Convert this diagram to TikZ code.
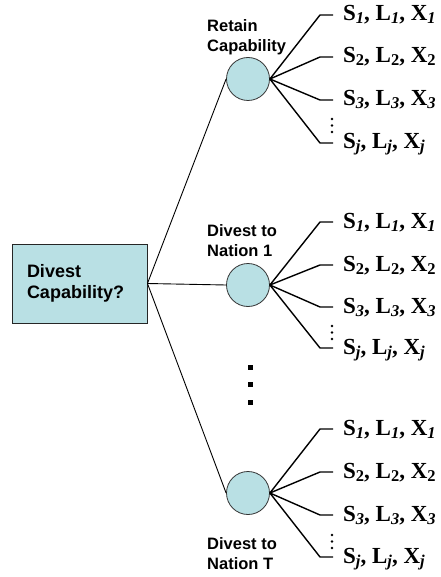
\documentclass[tikz,border=0pt]{standalone}
\usepackage{fontspec}
\setmainfont{Liberation Serif}
\setsansfont{Liberation Sans}
\usepackage{tikz}
\usetikzlibrary{positioning}
\definecolor{capblue}{RGB}{185,224,228}
\tikzset{
  decbox/.style={draw=black!85, fill=capblue, line width=0.9pt, minimum width=135pt, minimum height=79pt,
    inner xsep=15pt, inner ysep=0pt, text width=105pt, align=left, font=\fontsize{18}{21}\selectfont\sffamily\bfseries},
  chance/.style={circle, draw=black!80, fill=capblue, minimum size=43pt, inner sep=0pt, line width=0.8pt},
  lbl/.style={font=\fontsize{16.5}{20}\selectfont\sffamily\bfseries, align=left, inner sep=0pt},
  res/.style={font=\fontsize{23}{26}\selectfont\bfseries, inner sep=0pt, anchor=base west},
  arm/.style={line width=1.4pt},
  stem/.style={line width=0.9pt}}
\newcommand{\sbx}[1]{\raisebox{-3pt}{\fontsize{16.5}{16.5}\selectfont #1}}
\newcommand{\outc}[1]{S\sbx{#1}, L\sbx{#1}, X\sbx{#1}}

\begin{document}
\begin{tikzpicture}[x=1pt,y=-1pt]
  \useasboundingbox (0,0) rectangle (440,577);
    \node[decbox] (box) at (79.5,283.5) {Divest\\Capability?};
    \node[chance] (ret) at (248,79) {};
    \node[chance] (nat1) at (248,285) {};
    \node[chance] (natT) at (248,493) {};
         \draw[stem] (box.east) -- (ret.west);
         \draw[stem] (box.east) -- (nat1.west);
         \draw[stem] (box.east) -- (natT.west);
    \node[lbl, anchor=south west] (retlbl) at ([xshift=-41pt,yshift=2pt]ret.north) {Retain\\Capability};
    \node[lbl, anchor=south west] (n1lbl) at ([xshift=-41pt,yshift=6pt]nat1.north) {Divest to\\Nation 1};
    \node[lbl, anchor=north west] (ntlbl) at ([xshift=-41pt,yshift=-22pt]natT.south) {Divest to\\Nation T};
    % retain capability
    \coordinate (r1) at (320,15);
    \coordinate (r2) at (320,57);
    \coordinate (r3) at (320,100);
    \coordinate (rj) at (320,143);
         \draw[arm] (ret.east) -- (r1) -- ([xshift=13pt]r1);
         \draw[arm] (ret.east) -- (r2) -- ([xshift=13pt]r2);
         \draw[arm] (ret.east) -- (r3) -- ([xshift=13pt]r3);
         \draw[arm] (ret.east) -- (rj) -- ([xshift=13pt]rj);
    \node[res] (r1t) at ([xshift=23pt,yshift=-6pt]r1) {\outc{\itshape 1}};
    \node[res] (r2t) at ([xshift=23pt,yshift=-6pt]r2) {\outc{2}};
    \node[res] (r3t) at ([xshift=23pt,yshift=-6pt]r3) {\outc{\itshape 3}};
    \node[res] (rjt) at ([xshift=23pt,yshift=-6pt]rj) {\outc{\itshape j}};
         \fill (332,119) circle (1.3pt); \fill (332,125.5) circle (1.3pt); \fill (332,132) circle (1.3pt);
    % nation 1
    \coordinate (a1) at (320,222);
    \coordinate (a2) at (320,265);
    \coordinate (a3) at (320,307);
    \coordinate (aj) at (320,348);
         \draw[arm] (nat1.east) -- (a1) -- ([xshift=13pt]a1);
         \draw[arm] (nat1.east) -- (a2) -- ([xshift=13pt]a2);
         \draw[arm] (nat1.east) -- (a3) -- ([xshift=13pt]a3);
         \draw[arm] (nat1.east) -- (aj) -- ([xshift=13pt]aj);
    \node[res] (a1t) at ([xshift=23pt,yshift=-6pt]a1) {\outc{\itshape 1}};
    \node[res] (a2t) at ([xshift=23pt,yshift=-6pt]a2) {\outc{2}};
    \node[res] (a3t) at ([xshift=23pt,yshift=-6pt]a3) {\outc{\itshape 3}};
    \node[res] (ajt) at ([xshift=23pt,yshift=-6pt]aj) {\outc{\itshape j}};
         \fill (332,326) circle (1.3pt); \fill (332,332.5) circle (1.3pt); \fill (332,339) circle (1.3pt);
    % nation T
    \coordinate (t1) at (320,429);
    \coordinate (t2) at (320,472);
    \coordinate (t3) at (320,515);
    \coordinate (tj) at (320,557);
         \draw[arm] (natT.east) -- (t1) -- ([xshift=13pt]t1);
         \draw[arm] (natT.east) -- (t2) -- ([xshift=13pt]t2);
         \draw[arm] (natT.east) -- (t3) -- ([xshift=13pt]t3);
         \draw[arm] (natT.east) -- (tj) -- ([xshift=13pt]tj);
    \node[res] (t1t) at ([xshift=23pt,yshift=-6pt]t1) {\outc{\itshape 1}};
    \node[res] (t2t) at ([xshift=23pt,yshift=-6pt]t2) {\outc{2}};
    \node[res] (t3t) at ([xshift=23pt,yshift=-6pt]t3) {\outc{\itshape 3}};
    \node[res] (tjt) at ([xshift=23pt,yshift=-6pt]tj) {\outc{\itshape j}};
         \fill (332,535) circle (1.3pt); \fill (332,541.5) circle (1.3pt); \fill (332,548) circle (1.3pt);
    % more nations
         \fill (247.5,364.5) rectangle ++(5,5);
         \fill (247.5,382) rectangle ++(5,5);
         \fill (247.5,399.5) rectangle ++(5,5);
\end{tikzpicture}
\end{document}
